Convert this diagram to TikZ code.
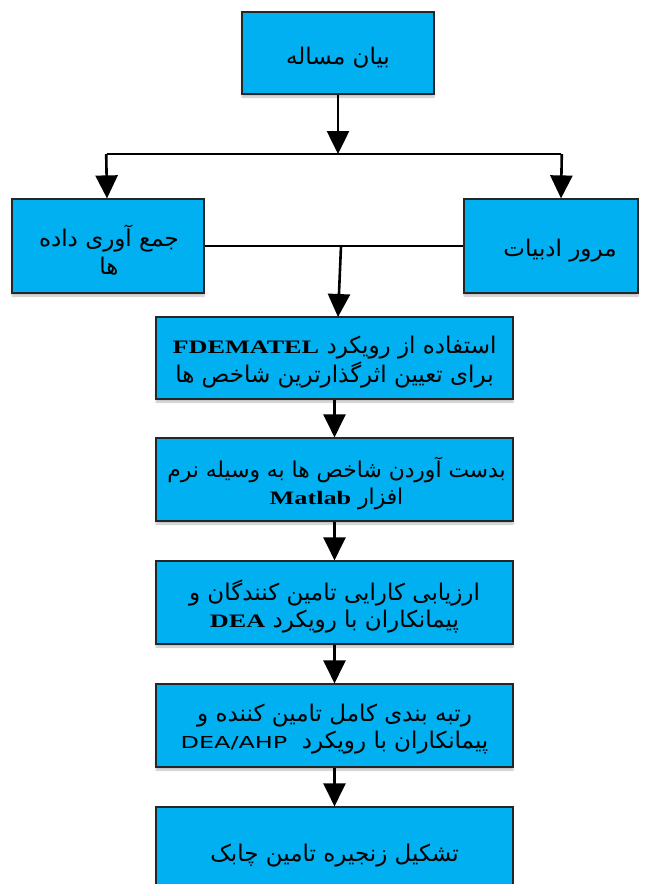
\documentclass[tikz,border=0pt]{standalone}
\usepackage{fontspec}
\usetikzlibrary{arrows.meta,shadows.blur}
\TeXXeTstate=1
\newfontfamily\arabicfont[Script=Arabic]{DejaVu Sans}
\newfontfamily\latinserif[FakeStretch=1.38]{Liberation Serif}
\newfontfamily\latinsans[FakeStretch=1.45]{DejaVu Sans}
\definecolor{boxblue}{HTML}{00B0F0}
\tikzset{
  box/.style={draw=black!85, line width=1.2pt, fill=boxblue, rectangle, inner sep=0pt,
    blur shadow={shadow xshift=0pt, shadow yshift=-3pt, shadow blur steps=6, shadow opacity=25}},
  txt/.style={inner sep=0pt, align=center, font=\arabicfont\fontsize{23}{28.5}\selectfont},
  arr/.style={line width=2.6pt, -{Triangle[width=22pt,length=23pt]}},
  thinline/.style={line width=1.6pt}
}
\newcommand{\ser}[1]{\beginL{\latinserif\bfseries\fontsize{19}{28}\selectfont #1}\endL}
\newcommand{\snf}[1]{\beginL{\latinsans\fontsize{16.5}{28}\selectfont #1}\endL}
\begin{document}
\begin{tikzpicture}[x=1pt,y=-1pt]
\useasboundingbox (0,0) rectangle (648,884);
\node[box, minimum width=192pt, minimum height=82pt] (top) at (338,53) {};
\node[box, minimum width=192pt, minimum height=94pt] (left) at (108,246) {};
\node[box, minimum width=174pt, minimum height=94pt] (right) at (551,246) {};
\node[box, minimum width=357pt, minimum height=82pt] (b3) at (334.5,358) {};
\node[box, minimum width=357pt, minimum height=83pt] (b4) at (334.5,479.5) {};
\node[box, minimum width=357pt, minimum height=83pt] (b5) at (334.5,602.5) {};
\node[box, minimum width=357pt, minimum height=83pt] (b6) at (334.5,725.5) {};
\node[box, minimum width=357pt, minimum height=92pt] (b7) at (334.5,853) {};
\node[txt] (toptxt) at ([yshift=-5pt]top.center) {\beginR بیان مساله\endR};
\node[txt] (lefttxt) at ([xshift=1pt,yshift=-4pt]left.center) {\beginR جمع آوری داده\endR\\\beginR ها\endR};
\node[txt] (righttxt) at ([xshift=9pt,yshift=-5pt]right.center) {\beginR مرور ادبیات\endR};
\node[txt] (b3txt) at ([yshift=-4pt]b3.center) {\beginR استفاده از رویکرد \ser{FDEMATEL}\endR\\\beginR برای تعیین اثرگذارترین شاخص ها\endR};
\node[txt, font=\arabicfont\fontsize{21.8}{27}\selectfont] (b4txt) at ([xshift=2pt,yshift=-4pt]b4.center) {\beginR بدست آوردن شاخص ها به وسیله نرم\endR\\\beginR افزار \ser{Matlab}\endR};
\node[txt, font=\arabicfont\fontsize{23}{27}\selectfont] (b5txt) at ([yshift=-4pt]b5.center) {\beginR ارزیابی کارایی تامین کنندگان و\endR\\\beginR پیمانکاران با رویکرد \ser{DEA}\endR};
\node[txt, font=\arabicfont\fontsize{23}{27}\selectfont] (b6txt) at ([yshift=-4pt]b6.center) {\beginR رتبه بندی کامل تامین کننده و\endR\\\beginR پیمانکاران با رویکرد \ \snf{DEA/AHP}\endR};
\node[txt] (b7txt) at ([yshift=-3pt]b7.center) {\beginR تشکیل زنجیره تامین چابک\endR};
\coordinate (j1) at (338,154);
\coordinate (jl) at (107,154);
\coordinate (jr) at (561,154);
\coordinate (j2) at (341,246);
\coordinate (e3) at (338,317);
\draw[arr] (top.south) -- (j1);
\draw[thinline] (jl) -- (jr);
\draw[arr] ([xshift=-0.8pt]jl) -- (jl |- left.north);
\draw[arr] ([xshift=0.8pt]jr) -- (jr |- right.north);
\draw[thinline] (left.east) -- (right.west);
\draw[arr] (j2) -- (e3);
\draw[arr] (b3.south) -- (b4.north);
\draw[arr] (b4.south) -- (b5.north);
\draw[arr] (b5.south) -- (b6.north);
\draw[arr] (b6.south) -- (b7.north);
\end{tikzpicture}
\end{document}
